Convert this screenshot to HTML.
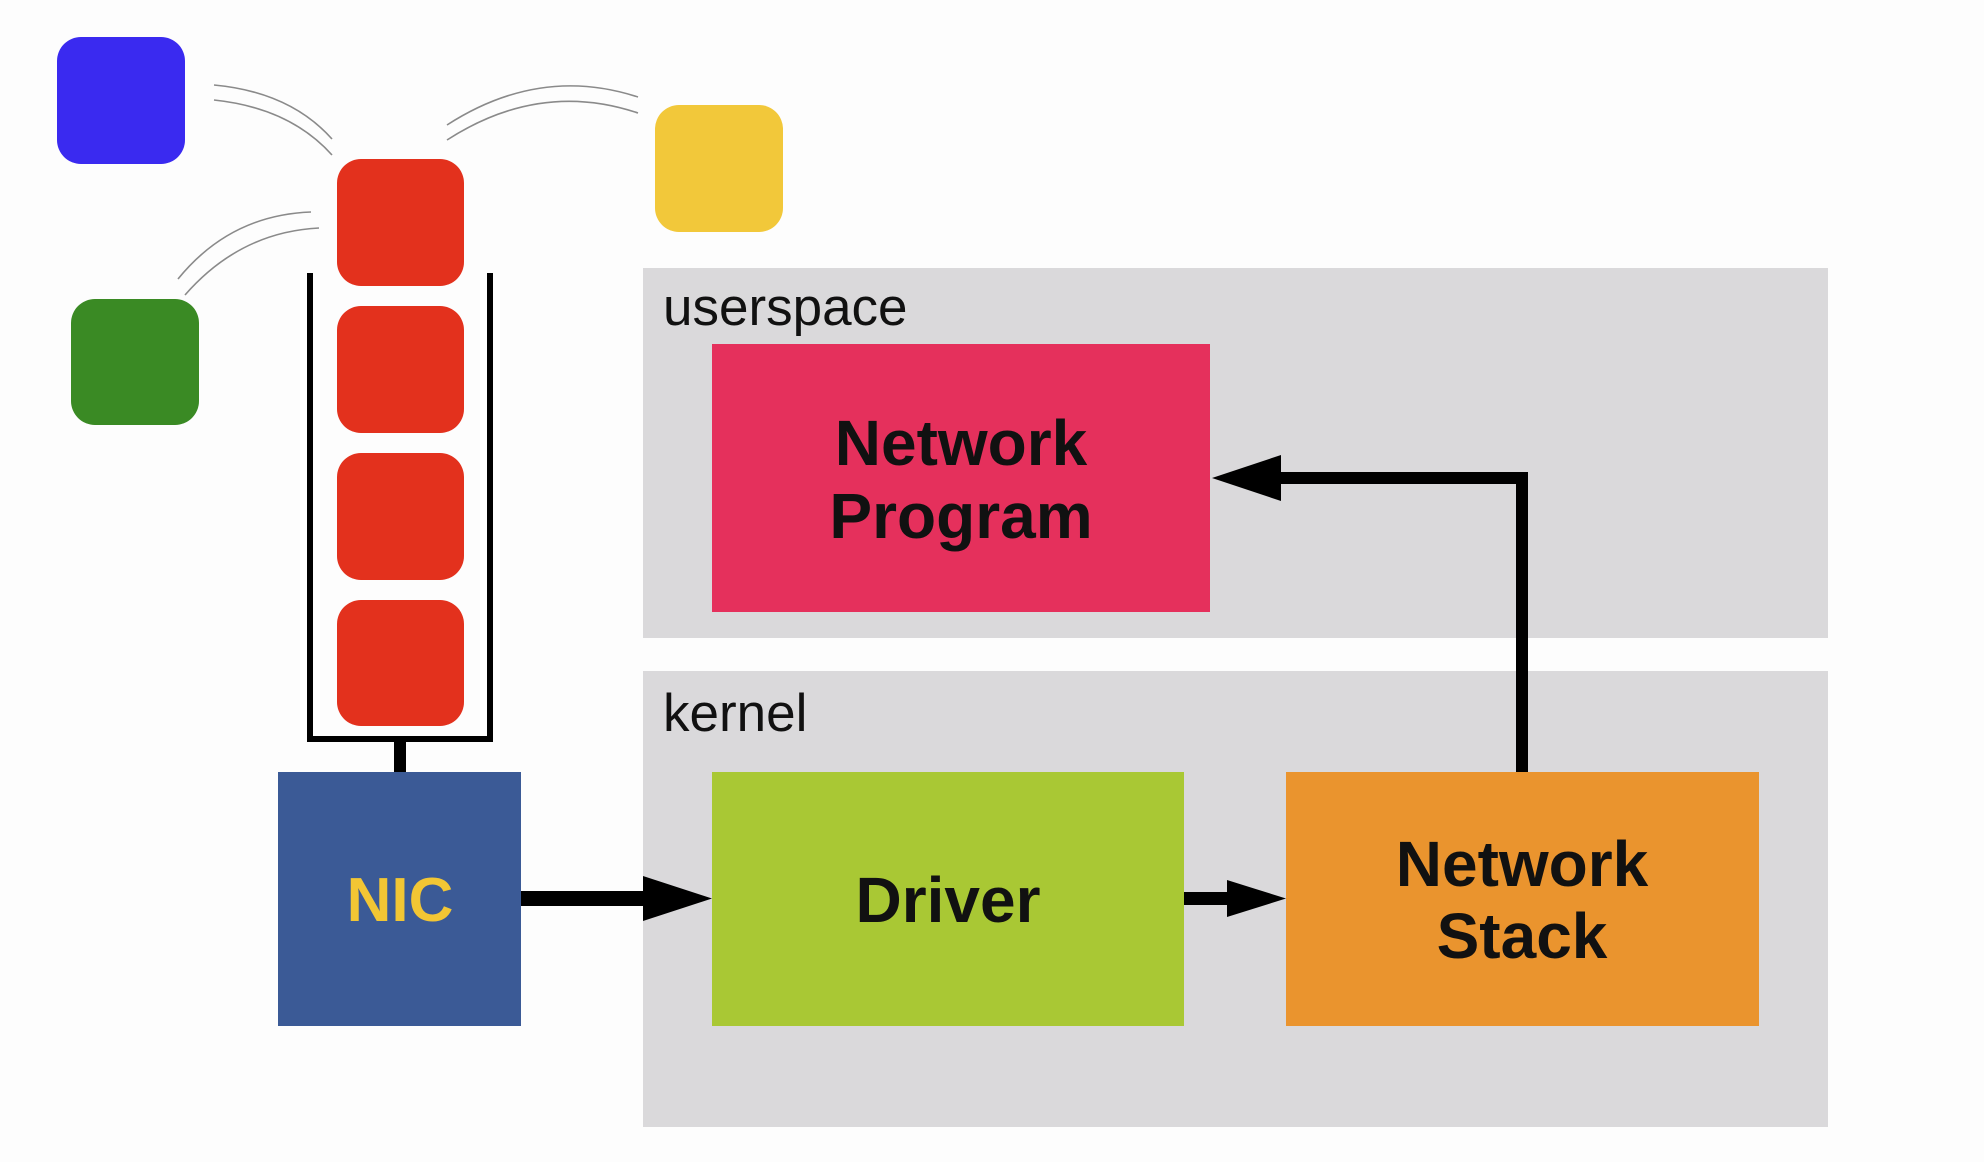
<!DOCTYPE html>
<html><head><meta charset="utf-8"><style>
html,body{margin:0;padding:0;background:#fdfdfd;}
svg{display:block}
text{font-family:"Liberation Sans",sans-serif;}
</style></head><body>
<svg width="1984" height="1162" viewBox="0 0 1984 1162" xmlns="http://www.w3.org/2000/svg">
<rect width="1984" height="1162" fill="#fdfdfd"/>
<rect x="643" y="268" width="1185" height="370" fill="#dad9db"/>
<rect x="643" y="671" width="1185" height="456" fill="#dad9db"/>
<text x="663" y="325" font-size="53" fill="#111">userspace</text>
<text x="663" y="731" font-size="53" fill="#111">kernel</text>
<rect x="57" y="37" width="128" height="127" rx="24" fill="#3a2af0"/>
<rect x="71" y="299" width="128" height="126" rx="24" fill="#3a8a24"/>
<rect x="655" y="105" width="128" height="127" rx="24" fill="#f2c83a"/>
<rect x="337" y="159" width="127" height="127" rx="24" fill="#e3311d"/>
<rect x="337" y="306" width="127" height="127" rx="24" fill="#e3311d"/>
<rect x="337" y="453" width="127" height="127" rx="24" fill="#e3311d"/>
<rect x="337" y="600" width="127" height="126" rx="24" fill="#e3311d"/>
<g fill="none" stroke="#8a8a8a" stroke-width="1.6">
<path d="M214 85 Q290 92 332 139"/>
<path d="M214 100 Q290 108 332 155"/>
<path d="M447 125 Q540 65 638 97"/>
<path d="M447 140 Q540 80 638 113"/>
<path d="M178 279 Q230 215 311 212"/>
<path d="M185 295 Q240 232 319 228"/>
</g>
<path d="M310 273 V739 H490 V273" fill="none" stroke="#000" stroke-width="6"/>
<rect x="394" y="739" width="12" height="34" fill="#000"/>
<rect x="278" y="772" width="243" height="254" fill="#3b5a96"/>
<text x="400" y="921" font-size="62" font-weight="bold" fill="#f2c634" text-anchor="middle">NIC</text>
<rect x="712" y="344" width="498" height="268" fill="#e5305c"/>
<text x="961" y="465" font-size="64" font-weight="bold" fill="#111" text-anchor="middle">Network</text>
<text x="961" y="538" font-size="64" font-weight="bold" fill="#111" text-anchor="middle">Program</text>
<rect x="712" y="772" width="472" height="254" fill="#a9c834"/>
<text x="948" y="922" font-size="64" font-weight="bold" fill="#111" text-anchor="middle">Driver</text>
<rect x="1286" y="772" width="473" height="254" fill="#ea942e"/>
<text x="1522" y="886" font-size="64" font-weight="bold" fill="#111" text-anchor="middle">Network</text>
<text x="1522" y="958" font-size="64" font-weight="bold" fill="#111" text-anchor="middle">Stack</text>
<rect x="521" y="891" width="125" height="15" fill="#000"/>
<polygon points="643,876 712,898.5 643,921" fill="#000"/>
<rect x="1184" y="892" width="46" height="13" fill="#000"/>
<polygon points="1227,880 1286,898.5 1227,917" fill="#000"/>
<path d="M1522 772 V478 H1270" fill="none" stroke="#000" stroke-width="12"/>
<polygon points="1281,455 1212,478 1281,501" fill="#000"/>
</svg>
</body></html>
